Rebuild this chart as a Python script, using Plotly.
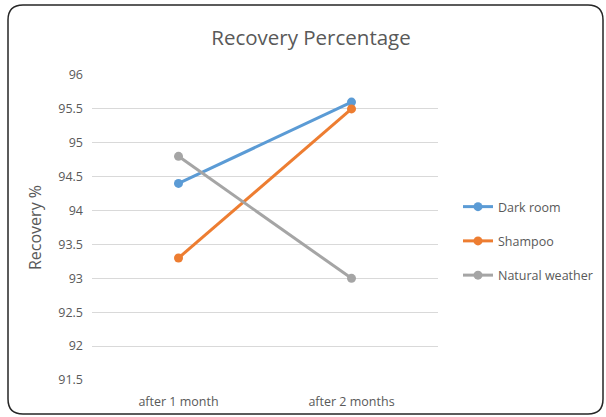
import plotly.graph_objects as go

# Recovery percentage per treatment, measured after one and two months
periods = ["after 1 month", "after 2 months"]
dark_room = [94.4, 95.6]
shampoo = [93.3, 95.5]
natural_weather = [94.8, 93.0]
y_ticks = [91.5, 92, 92.5, 93, 93.5, 94, 94.5, 95, 95.5, 96]
y_tick_text = ["91.5", "92", "92.5", "93", "93.5", "94", "94.5", "95", "95.5", "96"]

series = [
    ("Dark room", dark_room, "#5B9BD5"),
    ("Shampoo", shampoo, "#ED7D31"),
    ("Natural weather", natural_weather, "#A5A5A5"),
]

W, H = 606, 417
L, R, T, B = 92, 168, 75, 37
PW, PH = W - L - R, H - T - B
TEXT = "#595959"
FONT = "Open Sans"

fig = go.Figure()
for i, (name, vals, color) in enumerate(series):
    fig.add_trace(go.Scatter(
        x=periods, y=vals, name=name, mode="lines+markers",
        line=dict(color=color, width=3),
        marker=dict(color=color, size=9),
        legendgroup=f"g{i}",
    ))


def px_x(p):
    return (p - L) / PW


def px_y(p):
    return (H - B - p) / PH


# Rounded frame around the whole chart
x0, x1, y0, y1, r = 8, 603, 5, 414, 15
path = (
    f"M {px_x(x0 + r)},{px_y(y0)} L {px_x(x1 - r)},{px_y(y0)} "
    f"Q {px_x(x1)},{px_y(y0)} {px_x(x1)},{px_y(y0 + r)} "
    f"L {px_x(x1)},{px_y(y1 - r)} Q {px_x(x1)},{px_y(y1)} {px_x(x1 - r)},{px_y(y1)} "
    f"L {px_x(x0 + r)},{px_y(y1)} Q {px_x(x0)},{px_y(y1)} {px_x(x0)},{px_y(y1 - r)} "
    f"L {px_x(x0)},{px_y(y0 + r)} Q {px_x(x0)},{px_y(y0)} {px_x(x0 + r)},{px_y(y0)} Z"
)
fig.add_shape(type="path", path=path, xref="paper", yref="paper",
              line=dict(color="#262626", width=1.5), layer="above")

fig.update_layout(
    width=W, height=H,
    margin=dict(l=L, r=R, t=T, b=B, autoexpand=False),
    paper_bgcolor="white", plot_bgcolor="white",
    font=dict(family=FONT, color=TEXT, size=13),
    title=dict(text="Recovery Percentage", x=311 / W, xanchor="center",
               y=1 - 38 / H, yanchor="middle",
               font=dict(family=FONT, size=20.5, color=TEXT)),
    showlegend=True,
    legend=dict(xref="container", yref="container",
                x=458 / W, xanchor="left", y=1 - 192 / H, yanchor="top",
                font=dict(family=FONT, size=12.5, color=TEXT),
                tracegroupgap=15, itemwidth=30, bgcolor="rgba(0,0,0,0)"),
    xaxis=dict(range=[-0.5, 1.5], showgrid=False, showline=False, zeroline=False,
               ticks="", ticklabelstandoff=12, tickfont=dict(size=12.5, color=TEXT)),
    yaxis=dict(range=[91.5, 96], tickvals=y_ticks, ticktext=y_tick_text,
               showgrid=True, gridcolor="#D9D9D9", gridwidth=1,
               zeroline=False, showline=False, ticks="", ticklabelstandoff=8,
               tickfont=dict(size=12.5, color=TEXT),
               title=dict(text="Recovery %", font=dict(size=16, color=TEXT), standoff=12)),
)

fig.write_html("out.html")
